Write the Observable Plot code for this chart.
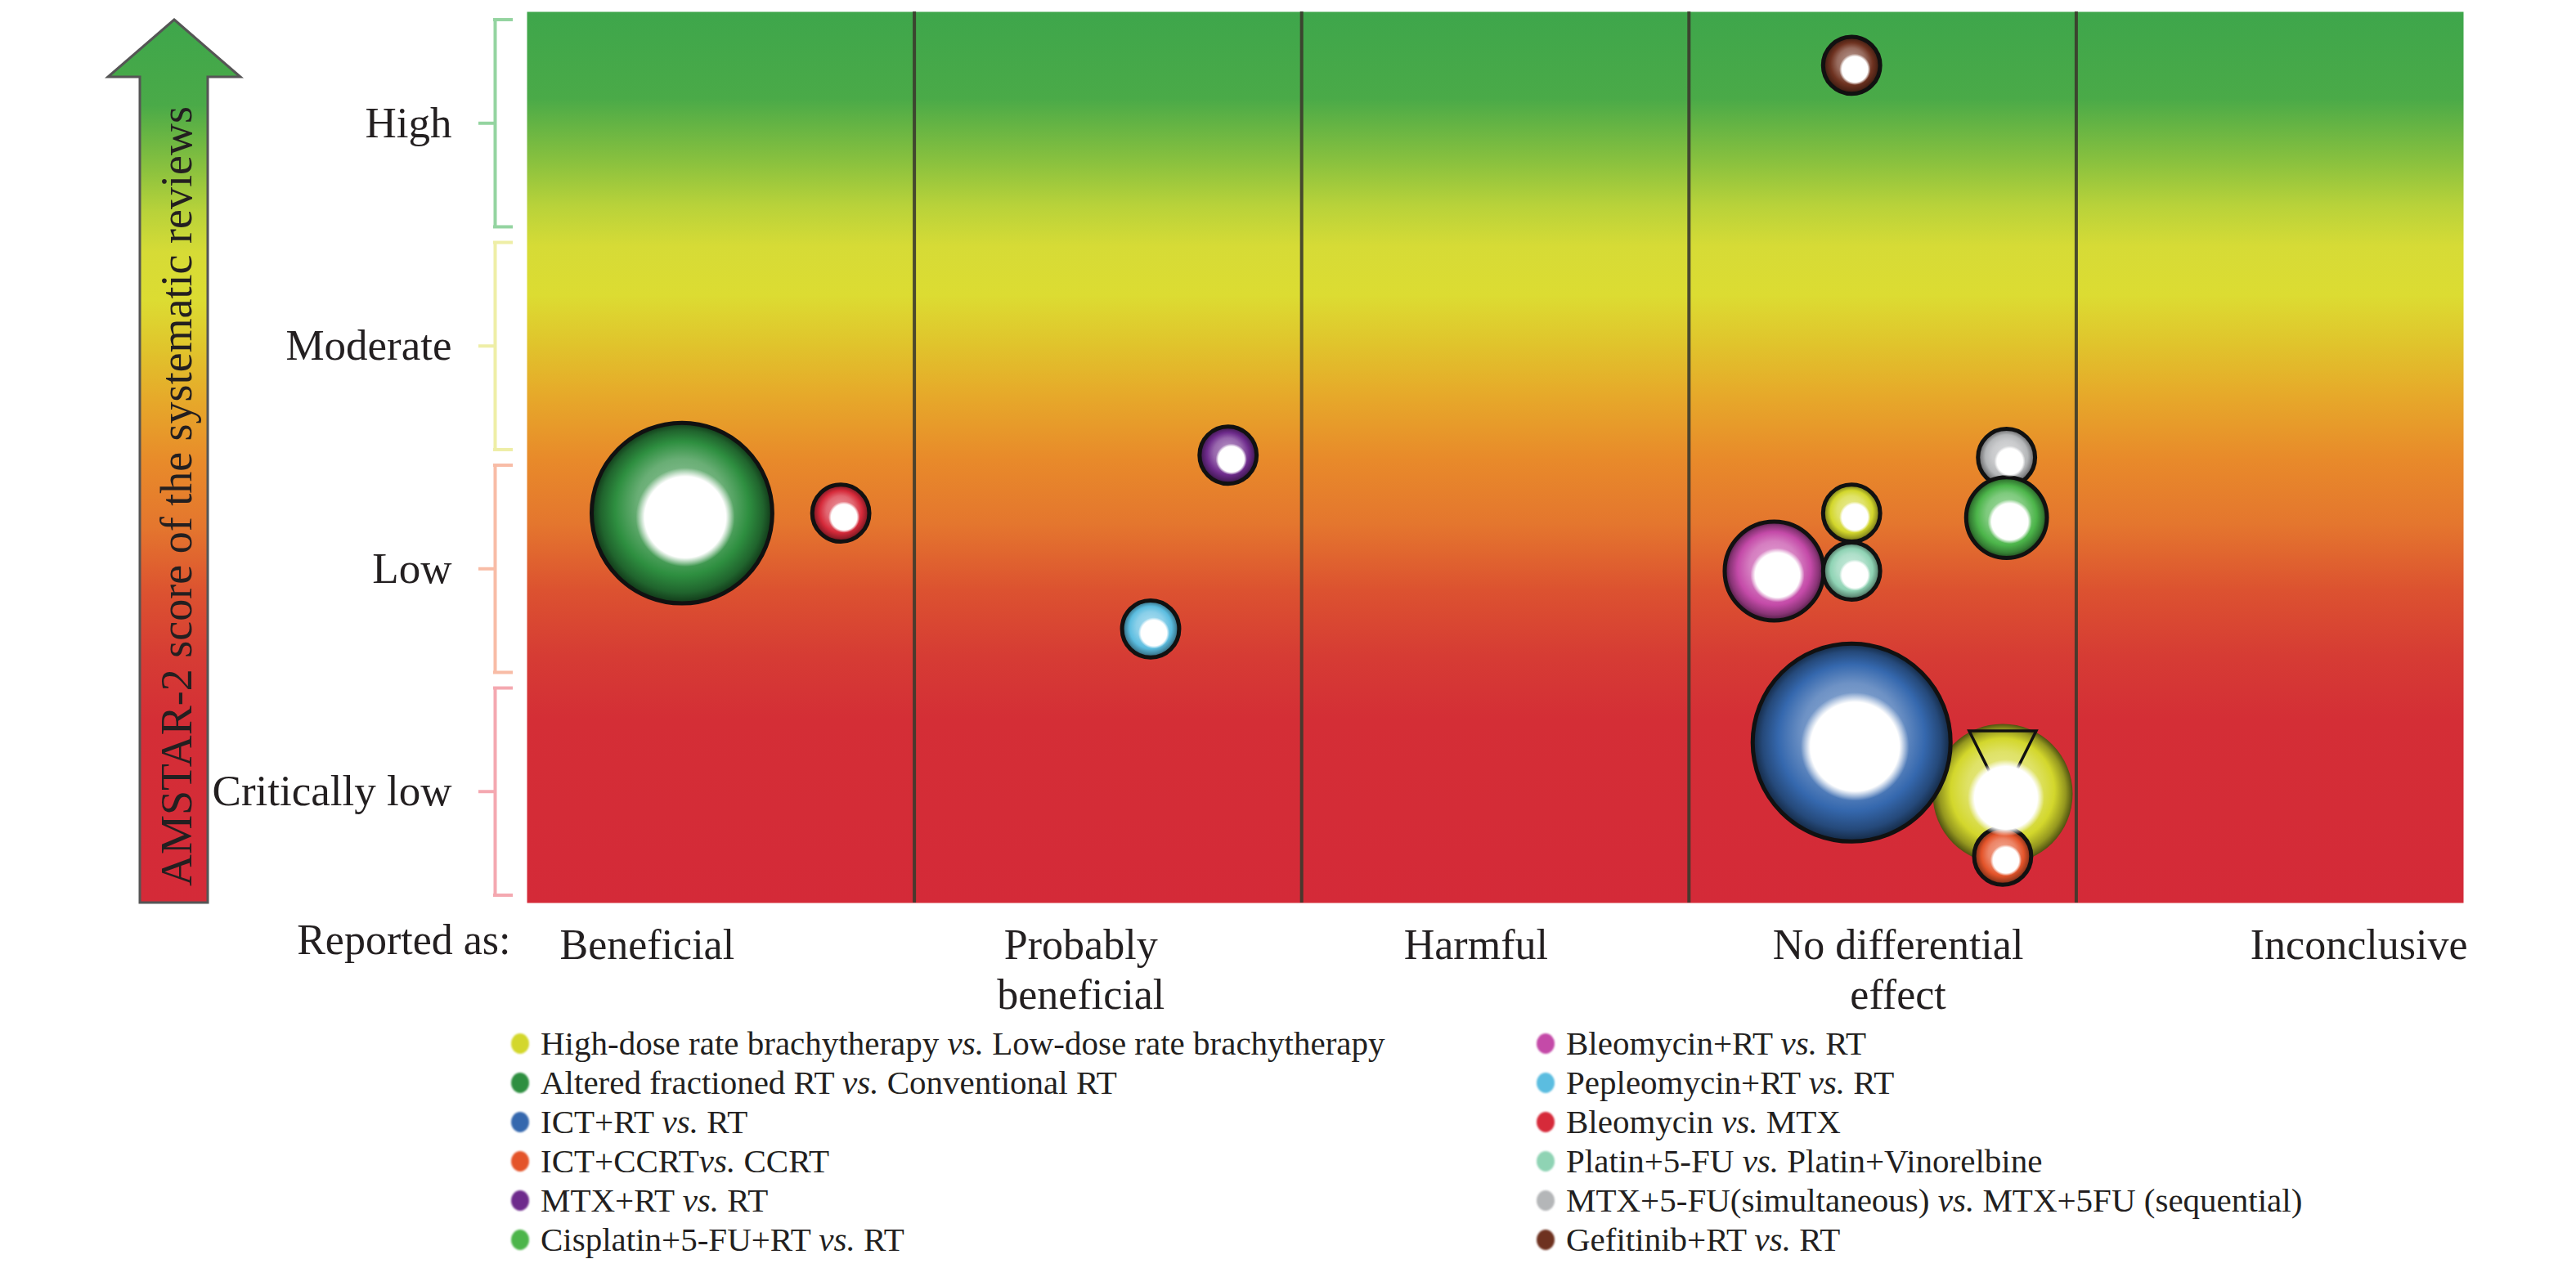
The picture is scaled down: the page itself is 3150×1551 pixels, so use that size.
<!DOCTYPE html>
<html><head><meta charset="utf-8">
<script src="https://cdn.jsdelivr.net/npm/d3@7"></script>
<script src="https://cdn.jsdelivr.net/npm/@observablehq/plot@0.6"></script>
<style>
html,body{margin:0;padding:0;background:#fff;}
body{width:3150px;height:1551px;overflow:hidden;position:relative;font-family:"Liberation Serif",serif;color:#231f20;}
#chart svg{display:block;}
#legend{position:absolute;left:0;top:1252px;width:3150px;font-size:41px;}
.item{position:absolute;height:48px;line-height:48px;white-space:nowrap;display:flex;align-items:center;}
.sw{width:22px;height:25px;border-radius:50%;filter:blur(1px);margin-right:14px;flex:none;}
</style></head><body>
<svg width="0" height="0" style="position:absolute"><defs id="defs"></defs></svg>
<div id="chart"></div>
<div id="legend"></div>
<script>
// ---------------- data ----------------
const levels = ["Critically low", "Low", "Moderate", "High"];
const effects = ["Beneficial", "Probably\nbeneficial", "Harmful", "No differential\neffect", "Inconclusive"];
const effectLabelX = [0.31, 1.43, 2.45, 3.54, 4.73];
const comparisons = [
  "High-dose rate brachytherapy vs. Low-dose rate brachytherapy",
  "Altered fractioned RT vs. Conventional RT",
  "ICT+RT vs. RT",
  "ICT+CCRTvs. CCRT",
  "MTX+RT vs. RT",
  "Cisplatin+5-FU+RT vs. RT",
  "Bleomycin+RT vs. RT",
  "Pepleomycin+RT vs. RT",
  "Bleomycin vs. MTX",
  "Platin+5-FU vs. Platin+Vinorelbine",
  "MTX+5-FU(simultaneous) vs. MTX+5FU (sequential)",
  "Gefitinib+RT vs. RT"
];
const comparisonColors = ["#d3d72c", "#2e8f40", "#3568ae", "#e4542a", "#6e2b8c", "#4cb54a",
                          "#c44aa8", "#5bbde0", "#d62a3a", "#8fd3b4", "#b4b6b8", "#6e3220"];
// one entry per bubble
const bubbleComparison = [11, 1, 8, 4, 7, 0, 6, 9, 10, 5, 0, 2, 3];
const bubbleEffectPos  = [3.42, 0.40, 0.81, 1.81, 1.61, 3.42, 3.22, 3.42, 3.82, 3.82, 3.81, 3.42, 3.81];
const bubbleAmstarPos  = [3.76, 1.75, 1.75, 2.01, 1.23, 1.75, 1.49, 1.49, 2.00, 1.73, 0.49, 0.72, 0.21];
const bubbleReviews    = [1, 10, 1, 1, 1, 1, 3, 1, 1, 2, 6, 12, 1];
const bubbleFlagged    = [false, false, false, false, false, false, false, false, false, false, true, false, false];

// ---------------- layout / style ----------------
const W = 3150, H = 1250;
const frameTop = 14, frameBottom = 1104, frameLeft = 644, frameRight = 3012;
const font = "Liberation Serif";
const ink = "#231f20";
const bgStops = [[0,"#3ea64b"],[0.097,"#4aaa48"],[0.171,"#8cc23e"],[0.217,"#b8d23a"],[0.263,"#d6db36"],
  [0.318,"#dcdc32"],[0.373,"#e0c42c"],[0.428,"#e6aa2a"],[0.502,"#e88a2a"],[0.575,"#e4762e"],
  [0.649,"#dc5230"],[0.722,"#d63c34"],[0.796,"#d42e36"],[1,"#d42a38"]];
const bracketColors = ["#f4a8b0", "#f8bca6", "#eeeea6", "#94d4a0"];

const defs = d3.select("#defs");
const bg = defs.append("linearGradient").attr("id", "bgGrad").attr("x1", 0).attr("y1", 0).attr("x2", 0).attr("y2", 1);
bgStops.forEach(([o, c]) => bg.append("stop").attr("offset", o).attr("stop-color", c));
comparisonColors.forEach((c, i) => {
  const g = defs.append("radialGradient").attr("id", "bub" + i)
    .attr("cx", 0.5).attr("cy", 0.5).attr("r", 0.5).attr("fx", 0.5).attr("fy", 0.4);
  const light = d3.interpolateRgb(c, "#fff");
  const dark = d3.interpolateRgb(c, "#000");
  [[0, light(0.5)], [0.5, light(0.28)], [0.74, c], [0.9, dark(0.3)], [1, dark(0.62)]]
    .forEach(([o, col]) => g.append("stop").attr("offset", o).attr("stop-color", col));
});
const hl = defs.append("radialGradient").attr("id", "hl").attr("cx", 0.5).attr("cy", 0.5).attr("r", 0.5);
[[0, 1], [0.82, 1], [1, 0]].forEach(([o, a]) => hl.append("stop").attr("offset", o).attr("stop-color", "#fff").attr("stop-opacity", a));

const levelRows = levels.map((name, i) => ({name, i}));
const effectRows = effects.map((name, i) => ({name, x: effectLabelX[i]}));
const bubbles = bubbleComparison.map((c, i) => ({c, x: bubbleEffectPos[i], y: bubbleAmstarPos[i], size: bubbleReviews[i], flag: bubbleFlagged[i]}));
const pxX = (frameRight - frameLeft) / effects.length;
const bracketDx = -39;
const bracketEnds = levelRows.flatMap(d => [{i: d.i, y: d.i + 0.035}, {i: d.i, y: d.i + 0.965}]);
const downTriangle = {draw(ctx, size) { const r = Math.sqrt(size / Math.PI); ctx.moveTo(-r, 0); ctx.lineTo(r, 0); ctx.lineTo(0, 2 * r); ctx.closePath(); }};

const chart = Plot.plot({
  width: W, height: H,
  marginLeft: frameLeft, marginRight: W - frameRight, marginTop: frameTop, marginBottom: H - frameBottom,
  x: {domain: [0, effects.length], axis: null},
  y: {domain: [0, levels.length], axis: null},
  r: {type: "sqrt", domain: [0, 12], range: [0, 121]},
  color: {type: "identity"},
  style: {fontFamily: font, background: "white", overflow: "visible", color: ink},
  marks: [
    Plot.frame({fill: "url(#bgGrad)"}),
    Plot.ruleX(d3.range(1, effects.length), {stroke: "#3b3a2c", strokeWidth: 4, strokeOpacity: 0.9}),
    Plot.ruleX(levelRows, {x: 0, y1: d => d.i + 0.035, y2: d => d.i + 0.965, dx: bracketDx, stroke: d => bracketColors[d.i], strokeWidth: 4}),
    Plot.ruleY(bracketEnds, {y: "y", x1: -2 / pxX, x2: 22 / pxX, dx: bracketDx, stroke: d => bracketColors[d.i], strokeWidth: 4}),
    Plot.ruleY(levelRows, {y: d => d.i + 0.5, x1: -20 / pxX, x2: 0, dx: bracketDx, stroke: d => bracketColors[d.i], strokeWidth: 4}),
    Plot.text(levelRows, {y: d => d.i + 0.5, text: "name", frameAnchor: "left", textAnchor: "end", dx: -92, fontSize: 53, fill: ink}),
    Plot.text(effectRows, {x: "x", text: "name", frameAnchor: "bottom", lineAnchor: "top", dy: 26, lineHeight: 1.16, fontSize: 52, fill: ink}),
    Plot.text(["Reported as:"], {frameAnchor: "bottom-left", textAnchor: "end", lineAnchor: "top", dx: -20, dy: 26, fontSize: 52, fill: ink}),
    Plot.dot(bubbles, {x: "x", y: "y", r: "size", sort: null, fill: d => `url(#bub${d.c})`,
      stroke: d => d.flag ? "none" : "#111", strokeWidth: 5}),
    Plot.dot(bubbles.filter(d => d.flag), {x: "x", y: "y", symbol: downTriangle, r: 41, dy: -77, stroke: "#111", strokeWidth: 3.5, fill: "none"}),
    Plot.dot(bubbles, {x: "x", y: "y", r: d => d.size * 0.3, sort: null, dx: 4, dy: 5, fill: "url(#hl)", stroke: "none"})
  ]
});

// AMSTAR arrow (axis title decoration) at left
const svg = d3.select(chart);
const sL = 171, sR = 254, hL = 132, hR = 294, ax = (hL + hR) / 2;
const aTop = frameTop + 10, aHead = 94, aBottom = frameBottom;
const arrow = svg.append("g");
arrow.append("path")
  .attr("d", `M${ax},${aTop} L${hR},${aHead} L${sR},${aHead} L${sR},${aBottom} L${sL},${aBottom} L${sL},${aHead} L${hL},${aHead} Z`)
  .attr("fill", "url(#bgGrad)").attr("stroke", "#555").attr("stroke-width", 3).attr("stroke-linejoin", "miter");
arrow.append("text")
  .attr("transform", `translate(234,${(aHead + aBottom) / 2 + 8}) rotate(-90)`)
  .attr("text-anchor", "middle").attr("font-family", font).attr("font-size", 54).attr("fill", ink)
  .text("AMSTAR-2 score of the systematic reviews");

document.getElementById("chart").appendChild(chart);

// legend (HTML below the svg)
const legend = d3.select("#legend");
comparisons.forEach((name, i) => {
  const col = Math.floor(i / 6), row = i % 6;
  const item = legend.append("div").attr("class", "item")
    .style("left", (col === 0 ? 625 : 1879) + "px").style("top", (row * 48) + "px");
  item.append("span").attr("class", "sw").style("background", comparisonColors[i]);
  const [a, b] = name.split("vs.");
  const t = item.append("span");
  t.append("span").text(a);
  t.append("i").text("vs.");
  t.append("span").text(b);
});
</script>
</body></html>
